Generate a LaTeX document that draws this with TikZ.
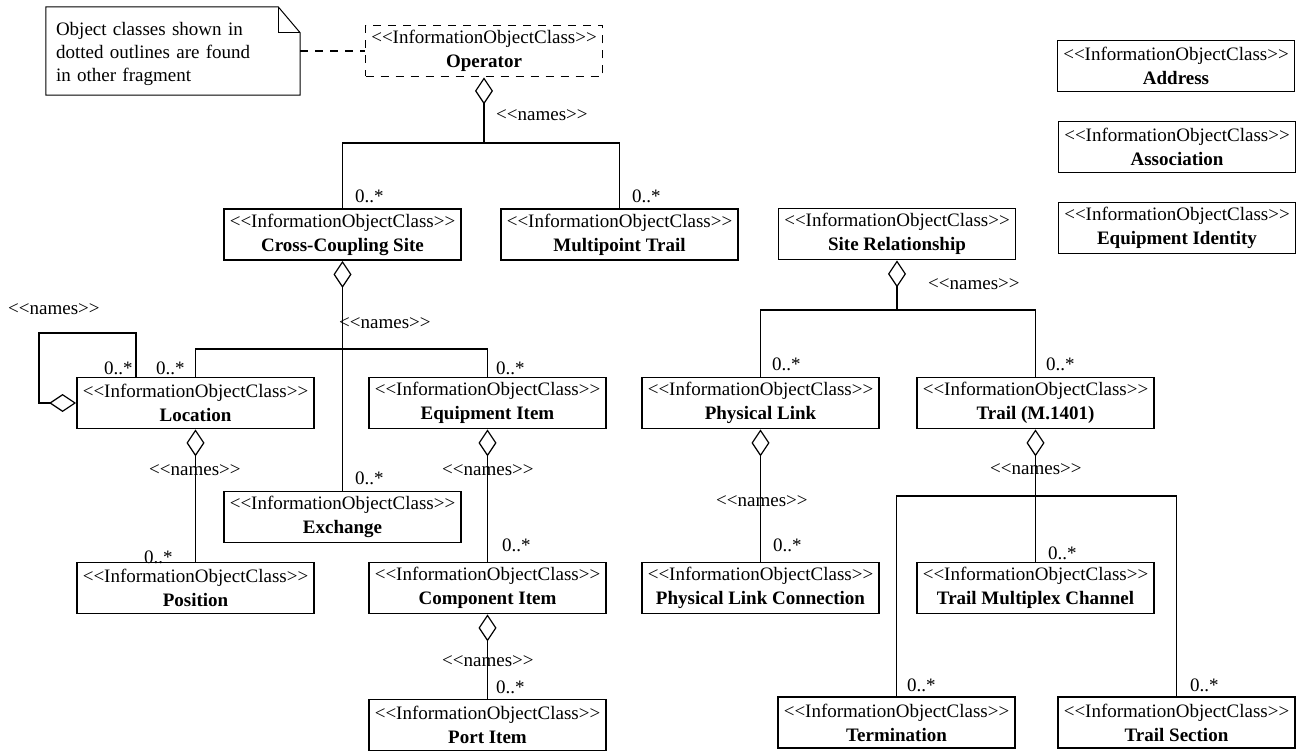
\documentclass[tikz,border=0pt]{standalone}
\usepackage{fontspec}
\setmainfont{Liberation Serif}
\usetikzlibrary{arrows.meta}
\newcommand{\umlfont}{\fontsize{19}{24}\selectfont}
\newcommand{\ster}{{<}{<}InformationObjectClass{>}{>}}
\begin{document}
\begin{tikzpicture}[x=1pt, y=-1pt,
  cls/.style={draw, line width=1.8, minimum width=237, minimum height=51,
              inner sep=0, align=center, font=\umlfont},
  extcls/.style={cls, dashed, dash pattern=on 8pt off 7pt},
  link/.style={line width=1.2},
  agg/.style={link, {Diamond[open, length=27pt, width=18pt]}-},
  mult/.style={font=\umlfont, inner sep=0, anchor=west},
  role/.style={font=\umlfont, inner sep=0, anchor=west},
  notebox/.style={minimum width=254, minimum height=88, inner sep=0},
  notetext/.style={text width=234, inner sep=0, align=left,
                   font=\fontsize{19}{23}\selectfont}
]
\useasboundingbox (0,0) rectangle (1303,751);

% --- comment note with folded corner ---
\node[notebox] (note) at (173,51) {};
\node[notetext] (notetxt) at (173,54) {Object classes shown in\\dotted outlines are found\\in other fragment};
\draw[line width=1] (note.north west) -- ([xshift=-22pt]note.north east)
  -- ([yshift=-26pt]note.north east) -- (note.south east) -- (note.south west) -- cycle;
\draw[line width=1] ([xshift=-22pt]note.north east) |- ([yshift=-26pt]note.north east);

% --- classes ---
\node[extcls] (op)    at (484,51)      {\ster\\\textbf{Operator}};
\node[cls]    (ccs)   at (342.5,234.5) {\ster\\\textbf{Cross-Coupling Site}};
\node[cls]    (mpt)   at (619.5,234.5) {\ster\\\textbf{Multipoint Trail}};
\node[cls]    (sr)    at (897,234)     {\ster\\\textbf{Site Relationship}};
\node[cls]    (addr)  at (1176,66)     {\ster\\\textbf{Address}};
\node[cls]    (assoc) at (1177,147)    {\ster\\\textbf{Association}};
\node[cls]    (eqid)  at (1177,228)    {\ster\\\textbf{Equipment Identity}};
\node[cls]    (loc)   at (195.5,403)   {\ster\\\textbf{Location}};
\node[cls]    (eqi)   at (487.5,403)   {\ster\\\textbf{Equipment Item}};
\node[cls]    (pl)    at (760.5,403)   {\ster\\\textbf{Physical Link}};
\node[cls]    (trl)   at (1035.5,403)  {\ster\\\textbf{Trail (M.1401)}};
\node[cls]    (exch)  at (342.5,517)   {\ster\\\textbf{Exchange}};
\node[cls]    (pos)   at (195.5,588)   {\ster\\\textbf{Position}};
\node[cls]    (comp)  at (487.5,588)   {\ster\\\textbf{Component Item}};
\node[cls]    (plc)   at (760.5,588)   {\ster\\\textbf{Physical Link Connection}};
\node[cls]    (tmc)   at (1035.5,588)  {\ster\\\textbf{Trail Multiplex Channel}};
\node[cls]    (port)  at (487.5,725)   {\ster\\\textbf{Port Item}};
\node[cls]    (term)  at (896.5,722.5) {\ster\\\textbf{Termination}};
\node[cls]    (ts)    at (1176.5,722.5){\ster\\\textbf{Trail Section}};

% --- note anchor ---
\draw[line width=1.4, dashed, dash pattern=on 8pt off 7pt] (note.east) -- (op.west);

% --- junction points of the tree connectors ---
\coordinate (j1) at (484,143);
\coordinate (j2) at (342.5,349);
\coordinate (j3) at (897,310);
\coordinate (j4) at (1035.5,496);
\coordinate (l1) at (39,403);
\coordinate (l2) at (136,333);

% --- aggregations ---
\draw[agg] (op.south) -- (j1);
\draw[link] (ccs.north) |- (j1) -| (mpt.north);

\draw[agg] (ccs.south) -- (exch.north);
\draw[link] (loc.north) |- (j2) -| (eqi.north);

\draw[agg] (loc.west) -- (l1) |- (l2) -- (l2 |- loc.north);
\draw[agg] (loc.south) -- (pos.north);
\draw[agg] (eqi.south) -- (comp.north);
\draw[agg] (comp.south) -- (port.north);

\draw[agg] (sr.south) -- (j3);
\draw[link] (pl.north) |- (j3) -| (trl.north);
\draw[agg] (pl.south) -- (plc.north);
\draw[agg] (trl.south) -- (tmc.north);
\draw[link] (term.north) |- (j4) -| (ts.north);

% --- stereotypes of the associations ---
\node[role] (r1) at (496,115) {{<}{<}names{>}{>}};
\node[role] (r2) at (339,323) {{<}{<}names{>}{>}};
\node[role] (r3) at (8,309)   {{<}{<}names{>}{>}};
\node[role] (r4) at (149,470) {{<}{<}names{>}{>}};
\node[role] (r5) at (442,470) {{<}{<}names{>}{>}};
\node[role] (r6) at (442,661) {{<}{<}names{>}{>}};
\node[role] (r7) at (928,284) {{<}{<}names{>}{>}};
\node[role] (r8) at (716,501) {{<}{<}names{>}{>}};
\node[role] (r9) at (990,469) {{<}{<}names{>}{>}};

% --- multiplicities ---
\node[mult] (m1)  at (355,196)  {0..*};
\node[mult] (m2)  at (632,196)  {0..*};
\node[mult] (m3)  at (104,368)  {0..*};
\node[mult] (m4)  at (156,368)  {0..*};
\node[mult] (m5)  at (496,368)  {0..*};
\node[mult] (m6)  at (355,478)  {0..*};
\node[mult] (m7)  at (144,557)  {0..*};
\node[mult] (m8)  at (502,545)  {0..*};
\node[mult] (m9)  at (496,687)  {0..*};
\node[mult] (m10) at (772,364)  {0..*};
\node[mult] (m11) at (1046,364) {0..*};
\node[mult] (m12) at (773,545)  {0..*};
\node[mult] (m13) at (1048,553) {0..*};
\node[mult] (m14) at (907,685)  {0..*};
\node[mult] (m15) at (1190,685) {0..*};
\end{tikzpicture}
\end{document}
